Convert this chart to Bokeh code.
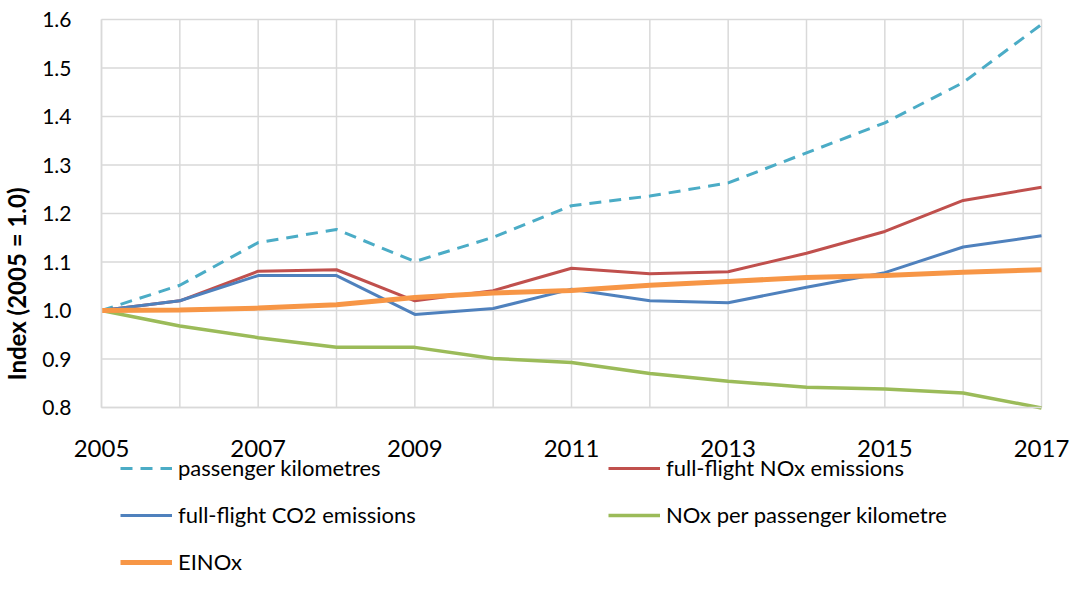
from bokeh.plotting import figure
from bokeh.models import FixedTicker, Legend, LegendItem, Label, Range1d, NumeralTickFormatter
from bokeh.embed import file_html
from bokeh.resources import INLINE
import math

years = list(range(2005, 2018))
x_tick_years = [2005, 2007, 2009, 2011, 2013, 2015, 2017]
y_ticks = [0.8, 0.9, 1.0, 1.1, 1.2, 1.3, 1.4, 1.5, 1.6]

passenger_km = [1.000, 1.052, 1.140, 1.167, 1.101, 1.151, 1.216, 1.236, 1.263, 1.325, 1.387, 1.470, 1.590]
nox_full = [1.000, 1.020, 1.081, 1.084, 1.020, 1.041, 1.087, 1.076, 1.080, 1.118, 1.163, 1.227, 1.254]
co2_full = [1.000, 1.020, 1.072, 1.072, 0.992, 1.004, 1.044, 1.020, 1.016, 1.048, 1.078, 1.131, 1.154]
nox_per_pkm = [1.000, 0.968, 0.944, 0.924, 0.924, 0.901, 0.893, 0.870, 0.854, 0.842, 0.838, 0.830, 0.799]
einox = [1.000, 1.001, 1.005, 1.012, 1.027, 1.036, 1.041, 1.052, 1.060, 1.068, 1.072, 1.079, 1.084]

labels = ["passenger kilometres", "full-flight NOx emissions", "full-flight CO2 emissions",
          "NOx per passenger kilometre", "EINOx"]
y_label = "Index (2005 = 1.0)"

FONT = "Lato"
GRID = "#D9D9D9"

# canvas and the pixel box of the plotting area inside it
W, H = 1070, 576
PX_LEFT, PX_RIGHT, PX_TOP, PX_BOTTOM = 101, 1041, 19, 407
x_lo, x_hi = years[0], years[-1]
y_lo, y_hi = y_ticks[0], y_ticks[-1]
px_x = (PX_RIGHT - PX_LEFT) / (x_hi - x_lo)
px_y = (PX_BOTTOM - PX_TOP) / (y_hi - y_lo)
# the frame covers the whole canvas so that axes, labels and legend are not clipped
x_range = Range1d(x_lo - PX_LEFT / px_x, x_hi + (W - PX_RIGHT) / px_x)
y_range = Range1d(y_lo - (H - PX_BOTTOM) / px_y, y_hi + PX_TOP / px_y)

p = figure(width=W, height=H, output_backend="svg", toolbar_location=None,
           x_range=x_range, y_range=y_range,
           min_border_left=0, min_border_right=0, min_border_top=0, min_border_bottom=0)
p.outline_line_color = None
p.xgrid.visible = False
p.ygrid.visible = False

# bounded gridlines
p.segment(x0=years, y0=[y_lo] * len(years), x1=years, y1=[y_hi] * len(years),
          line_color=GRID, line_width=1.5)
p.segment(x0=[x_lo] * len(y_ticks), y0=y_ticks, x1=[x_hi] * len(y_ticks), y1=y_ticks,
          line_color=GRID, line_width=1.5)

# axes drawn at the plotting-area edges
p.xaxis.ticker = FixedTicker(ticks=x_tick_years)
p.xaxis.fixed_location = y_lo
p.xaxis.bounds = (x_lo, x_hi)
p.yaxis.ticker = FixedTicker(ticks=y_ticks)
p.yaxis.fixed_location = x_lo
p.yaxis.bounds = (y_lo, y_hi)
p.yaxis.formatter = NumeralTickFormatter(format="0.0")
for ax in (p.xaxis, p.yaxis):
    ax.axis_line_color = GRID
    ax.axis_line_width = 1.5
    ax.major_tick_line_color = None
    ax.minor_tick_line_color = None
    ax.major_label_text_font = FONT
    ax.major_label_text_color = "black"
p.xaxis.major_label_text_font_size = "24px"
p.xaxis.major_label_standoff = 26
p.yaxis.major_label_text_font_size = "21px"
p.yaxis.major_label_standoff = 24

r_pass = p.line(years, passenger_km, line_color="#4BACC6", line_width=3, line_dash="12 8")
r_nox = p.line(years, nox_full, line_color="#C0504D", line_width=3)
r_co2 = p.line(years, co2_full, line_color="#4F81BD", line_width=3)
r_npk = p.line(years, nox_per_pkm, line_color="#9BBB59", line_width=3.5)
r_ei = p.line(years, einox, line_color="#F79646", line_width=5)

renderers = dict(zip(labels, [r_pass, r_nox, r_co2, r_npk, r_ei]))
# legend fills column by column: left column, then right column
legend_order = [labels[0], labels[2], labels[4], labels[1], labels[3]]
items = [LegendItem(label=l, renderers=[renderers[l]]) for l in legend_order]
legend = Legend(items=items, ncols=2, location=(120, 1),
                glyph_width=52, glyph_height=22, label_height=22, label_width=410,
                label_standoff=6, spacing=20, padding=0, margin=0,
                label_text_font=FONT, label_text_font_size="22px", label_text_color="black",
                border_line_color=None, background_fill_alpha=0)
p.add_layout(legend)

ylab = Label(x=16, y=H - 380, x_units="screen", y_units="screen", text=y_label,
             angle=math.pi / 2, text_align="left", text_baseline="middle",
             text_font=FONT, text_font_size="24px", text_font_style="bold", text_color="black")
p.add_layout(ylab)

open("out.html", "w").write(file_html(p, INLINE))
